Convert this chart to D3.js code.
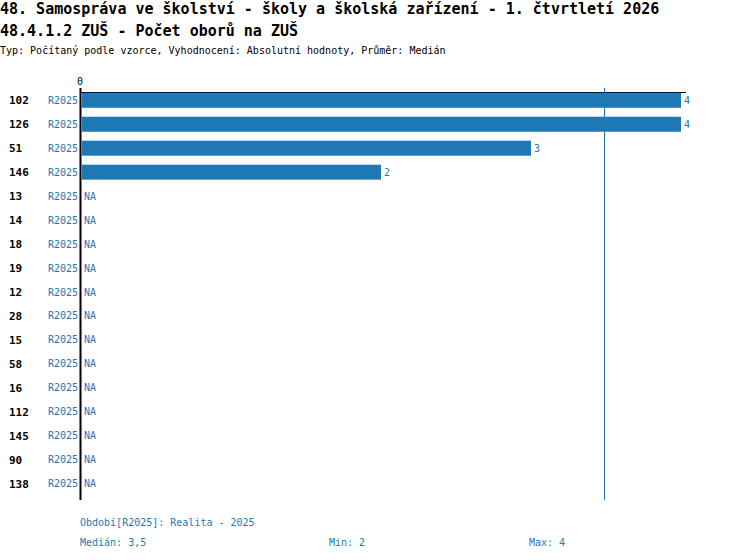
<!DOCTYPE html>
<html>
<head>
<meta charset="utf-8">
<script src="https://cdn.jsdelivr.net/npm/d3@7"></script>
<style>
  body { margin: 0; background: #fff; }
  text { font-family: "DejaVu Sans Mono", "Liberation Mono", monospace; }
</style>
</head>
<body>
<div id="app"></div>
<script>
// data
const units = ['102', '126', '51', '146', '13', '14', '18', '19', '12', '28', '15', '58', '16', '112', '145', '90', '138'];
const values = [4, 4, 3, 2, null, null, null, null, null, null, null, null, null, null, null, null, null];
const period = 'R2025';
const titleLines = [
    '48. Samospráva ve školství - školy a školská zařízení - 1. čtvrtletí 2026',
    '48.4.1.2 ZUŠ - Počet oborů na ZUŠ'
];
const subtitle = 'Typ: Počítaný podle vzorce, Vyhodnocení: Absolutní hodnoty, Průměr: Medián';
const footerPeriod = 'Období[R2025]: Realita - 2025';

const blue = '#1f77b4';

const draw = () => {
    const width = 750;
    const height = 560;

    const svg = d3.select('#app')
        .append('svg')
        .attr('width', width)
        .attr('height', height);

    const known = values.filter(v => v != null);
    const median = d3.median(known);
    const fmt = v => String(v).replace('.', ',');

    const x = d3.scaleLinear().domain([0, 4]).range([81, 681]);
    const y = d3.scaleBand().domain(units).range([88, 496]).paddingInner(0.375).paddingOuter(0.2);

    // titles
    svg.selectAll('.title')
        .data(titleLines)
        .enter()
        .append('text')
        .attr('x', 0)
        .attr('y', (d, i) => 14 + i * 22)
        .attr('font-size', 15)
        .attr('font-weight', 'bold')
        .text(d => d);

    svg.append('text')
        .attr('x', 0)
        .attr('y', 54)
        .attr('font-size', 10)
        .text(subtitle);

    // axis "0" label and top line
    svg.append('text')
        .attr('x', x(0) - 1)
        .attr('y', 85)
        .attr('font-size', 10)
        .attr('text-anchor', 'middle')
        .text('0');

    svg.append('line')
        .attr('x1', 80).attr('x2', 686)
        .attr('y1', 92.5).attr('y2', 92.5)
        .attr('stroke', '#000')
        .attr('stroke-width', 1);

    // bars
    const rows = svg.selectAll('.row')
        .data(units.map((u, i) => ({ unit: u, value: values[i] })))
        .enter()
        .append('g')
        .attr('transform', d => 'translate(0,' + (y(d.unit) + y.bandwidth() / 2) + ')');

    rows.filter(d => d.value != null)
        .append('rect')
        .attr('x', x(0) + 1)
        .attr('y', -y.bandwidth() / 2)
        .attr('width', d => x(d.value) - x(0) - 1)
        .attr('height', y.bandwidth())
        .attr('fill', blue);

    rows.append('text')
        .attr('x', 9)
        .attr('dy', '0.35em')
        .attr('font-size', 11)
        .attr('font-weight', 'bold')
        .text(d => d.unit);

    rows.append('text')
        .attr('x', 78)
        .attr('dy', '0.35em')
        .attr('font-size', 10)
        .attr('text-anchor', 'end')
        .attr('fill', blue)
        .text(period);

    rows.append('text')
        .attr('x', d => (d.value != null ? x(d.value) : x(0)) + 3)
        .attr('dy', '0.35em')
        .attr('font-size', 10)
        .attr('fill', blue)
        .text(d => d.value != null ? fmt(d.value) : 'NA');

    // median line
    svg.append('line')
        .attr('x1', x(median) - 1.5).attr('x2', x(median) - 1.5)
        .attr('y1', 88).attr('y2', 500)
        .attr('stroke', blue)
        .attr('stroke-width', 1);

    // vertical axis
    svg.append('line')
        .attr('x1', 80.5).attr('x2', 80.5)
        .attr('y1', 88).attr('y2', 500)
        .attr('stroke', '#000')
        .attr('stroke-width', 2);

    // footer
    svg.append('text')
        .attr('x', 80).attr('y', 526)
        .attr('font-size', 10)
        .attr('fill', blue)
        .text(footerPeriod);

    const stats = [
        ['Medián: ' + fmt(median), 80],
        ['Min: ' + fmt(d3.min(known)), 329],
        ['Max: ' + fmt(d3.max(known)), 529]
    ];
    svg.selectAll('.stat')
        .data(stats)
        .enter()
        .append('text')
        .attr('x', d => d[1])
        .attr('y', 546)
        .attr('font-size', 10)
        .attr('fill', blue)
        .text(d => d[0]);
};

draw();
</script>
</body>
</html>
